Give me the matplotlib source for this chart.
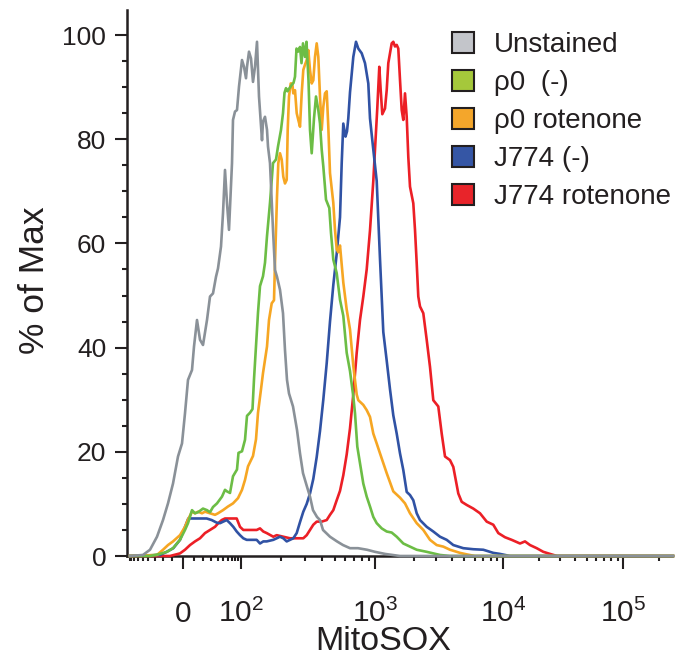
import numpy as np
import matplotlib
matplotlib.use("Agg")
import matplotlib.pyplot as plt
from matplotlib.patches import Patch

plt.rcParams['font.family'] = ['Liberation Sans', 'DejaVu Sans']
plt.rcParams['mathtext.default'] = 'regular'

# ---------------- data (x = biexponential display channel, y = % of max) -------------
labels = ["Unstained", "\u03c10  (-)", "\u03c10 rotenone", "J774 (-)", "J774 rotenone"]
line_colors = ["#8a9198", "#6cbd45", "#f6a623", "#3052a4", "#ec1f26"]
patch_colors = ["#c3c5ca", "#a5c83b", "#f4a62b", "#3556a5", "#e8242a"]

unstained_x = [0, 13, 20, 27, 33, 38, 43, 48, 52, 55, 58, 62, 64, 67, 70, 73, 77, 80, 83, 86, 88, 91, 93, 95, 97, 99,
               102, 103, 105, 107, 109, 112, 114, 116, 117, 119, 121, 123, 125, 127, 129, 132, 133, 135, 137, 138,
               140, 143, 145, 147, 150, 153, 155, 157, 159, 163, 167, 170, 173, 177, 180, 183, 187, 190, 193, 200,
               207, 213, 220, 228, 237, 245, 255, 270, 543]
unstained_y = [0, 0.2, 1.2, 3.7, 6.9, 10.1, 13.9, 19.1, 21.6, 27.4, 33.8, 35.7, 40.2, 45.3, 41.5, 40.5, 45.3, 49.8,
               50.4, 53.6, 55.2, 59.4, 65.8, 74.1, 67.7, 62.6, 75.4, 83.7, 85.3, 85.6, 90.1, 95.2, 93.9, 91.7, 93.9,
               96.8, 95.5, 91.0, 93.9, 98.7, 88.2, 79.8, 83.4, 84.3, 81.8, 78.6, 75.4, 62.6, 54.9, 53.6, 51.1, 46.6,
               39.5, 33.8, 31.2, 28.7, 24.2, 19.7, 15.9, 13.3, 11.4, 8.8, 7.5, 6.9, 5.0, 3.7, 2.8, 2.1, 1.5, 1.5,
               1.2, 0.8, 0.4, 0, 0]

rho0_x = [0, 20, 30, 37, 43, 50, 55, 58, 62, 65, 68, 73, 77, 80, 83, 87, 92, 95, 97, 100, 103, 107, 108.5, 112, 115,
          117, 120, 122.5, 124, 126, 128, 130, 133, 135, 137, 138.5, 140, 143, 146, 148, 151, 153, 154.5, 156, 157.5,
          159.5, 162, 163.5, 165, 166.5, 168, 170, 171.5, 173, 175, 176.5, 178.5, 180, 181.7, 184, 186, 188.3, 190,
          191.7, 193.3, 196, 199.3, 201, 203.3, 206.7, 210, 213.3, 216.7, 220, 223.3, 225, 227.3, 230, 233.3, 236.7,
          240, 243.3, 246.7, 251.7, 256.7, 261.7, 266.7, 273.3, 280, 286.7, 296.7, 310, 320, 543]
rho0_y = [0, 0, 0.4, 0.8, 1.5, 3.1, 5.0, 6.3, 8.8, 8.2, 8.4, 9.1, 8.8, 8.4, 9.4, 10.1, 11.4, 12.7, 12.4, 12.1, 15.3,
          16.6, 19.8, 20.1, 22.3, 26.9, 27.5, 28.2, 33.9, 40.3, 46.7, 51.8, 53.7, 56.3, 61.4, 64.6, 67.8, 75.4, 76.1,
          78.6, 81.8, 85.0, 88.9, 89.8, 89.2, 89.8, 90.5, 90.8, 92.0, 97.4, 96.8, 97.7, 94.6, 98.4, 95.8, 98.7, 91.3,
          81.8, 77.3, 84.0, 88.2, 85.6, 83.0, 78.0, 74.8, 68.4, 66.8, 62.0, 56.9, 54.3, 49.2, 46.1, 39.0, 35.5, 30.6,
          27.4, 21.0, 17.8, 13.9, 11.4, 9.5, 7.5, 6.3, 5.3, 4.7, 4.5, 3.7, 2.4, 1.8, 1.2, 0.8, 0.2, 0, 0]

rho0_rot_x = [0, 27, 33, 38, 43, 50, 55, 58, 62, 65, 68, 72, 75, 80, 85, 88, 93, 98, 103, 108, 112, 115, 118, 123,
              126, 128, 131, 133, 137, 139, 141.7, 144, 145, 146, 147, 148.3, 150, 151.7, 153.3, 155, 156.7, 157.7,
              159, 160.7, 162.3, 163.3, 165, 166.7, 168.3, 170, 171.7, 173.3, 175, 176.7, 178.3, 180, 181.7, 183.3,
              185, 186.7, 188.3, 190, 191.7, 193.3, 195, 196.7, 198.3, 200, 203.3, 205, 206.7, 208.3, 210, 213.3,
              216.7, 220, 223.3, 226.7, 228.3, 230, 233.3, 236.7, 240, 243.3, 246.7, 250, 256.7, 263.3, 270, 275,
              280, 286.7, 293.3, 300, 306.7, 313.3, 320, 330, 337, 345, 543]
rho0_rot_y = [0, 0.2, 1.2, 2.1, 2.8, 4.0, 5.6, 7.0, 8.5, 8.2, 8.5, 8.2, 8.5, 8.2, 7.9, 8.2, 8.8, 9.5, 10.1, 11.1,
              12.7, 14.6, 17.2, 19.2, 22.4, 27.5, 32.0, 35.1, 40.2, 45.3, 48.5, 49.1, 56.3, 62.6, 69.0, 75.4, 77.3,
              76.1, 72.8, 71.5, 72.2, 81.8, 88.2, 90.7, 90.7, 88.8, 89.4, 85.0, 83.7, 82.4, 88.8, 93.3, 94.3, 95.2,
              97.1, 93.3, 90.7, 91.3, 95.8, 98.4, 95.8, 88.2, 81.8, 86.2, 88.8, 89.2, 82.4, 73.5, 67.8, 62.6, 58.9,
              58.3, 59.6, 52.5, 47.3, 43.5, 36.5, 31.0, 29.9, 29.6, 29.0, 28.0, 26.7, 23.5, 21.6, 19.7, 15.9, 12.4,
              11.2, 10.1, 8.2, 6.3, 5.0, 3.1, 2.1, 1.8, 1.2, 0.6, 0.3, 0, 0]

j774_x = [0, 30, 36.7, 43.3, 50, 55, 58.3, 63.3, 70, 76.7, 81.7, 86.7, 90, 93.3, 96.7, 100, 103.3, 106.7, 110, 113.3,
          116.7, 121.7, 126.7, 130, 133.3, 136.7, 143.3, 146.7, 150, 153.3, 156.7, 160, 163.3, 166.7, 170, 173.3,
          176.7, 180, 183.3, 186.7, 190, 193.3, 196.7, 200, 203.3, 206.7, 210, 211.7, 213.3, 215.5, 217, 218.3, 220,
          223.3, 226, 228.3, 231.7, 235, 238.3, 240, 243.3, 246.7, 250, 253.3, 256.7, 260, 263.3, 266.7, 270, 273.3,
          276.7, 280, 283.3, 286.7, 290, 296.7, 303.3, 310, 316.7, 323.3, 333.3, 343.3, 353.3, 363.3, 370, 380, 543]
j774_y = [0, 0.2, 0.8, 1.5, 3.1, 5.6, 7.2, 7.2, 7.2, 7.2, 6.9, 6.4, 6.3, 6.6, 6.9, 6.3, 5.6, 4.7, 4.0, 3.4, 3.1,
          3.1, 3.1, 2.4, 2.8, 2.8, 3.1, 3.4, 3.7, 3.4, 2.8, 3.1, 3.4, 4.4, 6.5, 8.5, 10.0, 12.0, 14.8, 19.0, 24.0,
          30.0, 37.0, 45.0, 52.0, 58.0, 65.0, 75.4, 83.0, 80.5, 81.5, 84.0, 89.0, 95.8, 98.7, 97.4, 96.5, 94.6, 90.7,
          84.0, 78.0, 72.0, 57.0, 43.0, 37.5, 32.0, 27.0, 23.5, 19.7, 16.5, 12.3, 11.7, 10.7, 8.2, 6.9, 5.6, 4.7,
          3.7, 3.1, 2.1, 1.5, 1.3, 1.2, 0.6, 0.4, 0, 0]

j774_rot_x = [0, 40, 50, 55, 60, 65, 70, 75, 80, 85, 88.3, 91.7, 95, 103.3, 106.7, 110, 113.3, 123.3, 126.7, 130,
              133.3, 136.7, 143.3, 146.7, 153.3, 160, 173.3, 176.7, 180, 183.3, 186.7, 191.7, 196.7, 200, 203.3,
              206.7, 210, 213.3, 216.7, 220, 223.3, 226.7, 230, 233.3, 236.7, 240, 243.3, 245, 247.3, 249.3, 250.7,
              252.3, 255, 256.7, 258.3, 260, 261.7, 263.3, 265, 266.7, 268.3, 270, 271.7, 273.3, 275, 276.7, 278.3,
              280, 283.3, 285, 286.7, 288.3, 290, 293.3, 296.7, 300, 303.3, 308.3, 311.7, 315, 320, 323.3, 328.3,
              331.7, 336.7, 343.3, 350, 356.7, 363.3, 368.3, 375, 381.7, 390, 395, 400, 406.7, 413.3, 420, 427, 543]
j774_rot_y = [0, 0, 0.5, 1.2, 2.1, 2.8, 3.4, 4.4, 5.0, 5.6, 6.3, 6.9, 7.2, 7.2, 7.2, 5.6, 5.0, 5.0, 5.0, 5.3, 4.7,
              4.4, 3.7, 4.0, 3.7, 3.4, 3.4, 4.0, 5.0, 6.0, 6.6, 6.6, 6.9, 7.9, 8.8, 10.7, 12.5, 15.5, 19.5, 24.5,
              31.0, 39.0, 45.3, 49.8, 55.0, 62.5, 72.0, 78.0, 86.0, 93.9, 89.4, 84.8, 85.9, 89.4, 94.6, 96.5, 98.4,
              98.7, 97.8, 98.1, 97.4, 91.4, 85.6, 83.7, 88.8, 84.3, 76.6, 70.9, 67.7, 62.6, 56.2, 49.8, 47.9, 46.6,
              41.5, 36.3, 29.9, 28.7, 23.5, 19.1, 18.4, 17.1, 12.0, 10.4, 9.8, 9.1, 8.2, 6.6, 6.0, 4.4, 3.6, 3.1,
              2.4, 2.8, 2.1, 1.5, 0.8, 0.4, 0, 0]

series_x = [unstained_x, rho0_x, rho0_rot_x, j774_x, j774_rot_x]
series_y = [unstained_y, rho0_y, rho0_rot_y, j774_y, j774_rot_y]

# axis tick values (MitoSOX intensity) and their labels
major_tick_values = [0, 100, 1000, 10000, 100000]
major_tick_labels = ["0", r"$10^{2}$", r"$10^{3}$", r"$10^{4}$", r"$10^{5}$"]
decade_logs = [2, 3, 4, 5, 6]
decade_channels = [111, 245, 373, 493, 613]   # display channel of 10^2 .. 10^6


def to_channel(v):
    """Biexponential-like display transform: intensity -> display channel."""
    v = np.asarray(v, dtype=float)
    lin = 53 + 27.7 * np.arcsinh(v / 25.0)
    logpart = np.interp(np.log10(np.clip(v, 1, None)), decade_logs, decade_channels)
    return np.where(v >= 100, logpart, lin)


minor_vals = [-80, -70, -60, -50, -40, -30, -20, -10, 10, 20, 30, 40, 50, 60, 70, 80, 90]
for dec in [100, 1000, 10000, 100000]:
    minor_vals += [k * dec for k in range(2, 10)]

# ---------------- figure -------------------
dark = "#231f20"
fig = plt.figure(figsize=(6.77, 6.60), dpi=100)
ax = fig.add_axes([127 / 677, 104 / 660, 545 / 677, 546 / 660])

order = [4, 3, 2, 1, 0]
for i in order:
    ax.plot(series_x[i], series_y[i], color=line_colors[i], lw=1.9, clip_on=False, zorder=3 + (4 - i) * 0.1,
            solid_joinstyle='round')

ax.set_xlim(-3, 542)
ax.set_ylim(0, 104.8)

for s in ["top", "right"]:
    ax.spines[s].set_visible(False)
for s in ["left", "bottom"]:
    ax.spines[s].set_linewidth(1.8)
    ax.spines[s].set_color(dark)

# y ticks
ax.set_yticks([0, 20, 40, 60, 80, 100])
ax.set_yticks(np.arange(5, 100, 5), minor=True)
ax.tick_params(axis='y', which='major', length=9, width=1.5, color=dark, labelsize=19, pad=6, labelcolor=dark)
ax.tick_params(axis='y', which='minor', length=3.3, width=1.5, color=dark)

# x ticks
xt = to_channel(major_tick_values)
ax.set_xticks(xt)
ax.set_xticklabels(major_tick_labels)
mv = to_channel(minor_vals)
mv = mv[(mv >= -2) & (mv <= 541)]
ax.set_xticks(list(mv) + [0.0], minor=True)
ax.tick_params(axis='x', which='major', length=9.5, width=1.5, color=dark, labelsize=21.5, pad=38,
               labelcolor=dark)
ax.tick_params(axis='x', which='minor', length=3.8, width=1.5, color=dark)
for t in ax.xaxis.get_major_ticks():
    t.label1.set_verticalalignment('baseline')

ax.set_xlabel("MitoSOX", fontsize=24.5, color=dark)
ax.xaxis.set_label_coords(0.47, -0.128)
ax.set_ylabel("% of Max", fontsize=25.5, color=dark)
ax.yaxis.set_label_coords(-0.14, 0.505)

handles = [Patch(facecolor=patch_colors[i], edgecolor=dark, linewidth=1.5) for i in range(5)]
fig.legend(handles, labels, loc='upper left', bbox_to_anchor=(452 / 677, 1 - 32 / 660), frameon=False,
           fontsize=20, handlelength=0.8, handleheight=0.8, handletextpad=0.7, labelspacing=0.42,
           borderpad=0, borderaxespad=0, labelcolor=dark)

fig.savefig("out.png", dpi=100)
